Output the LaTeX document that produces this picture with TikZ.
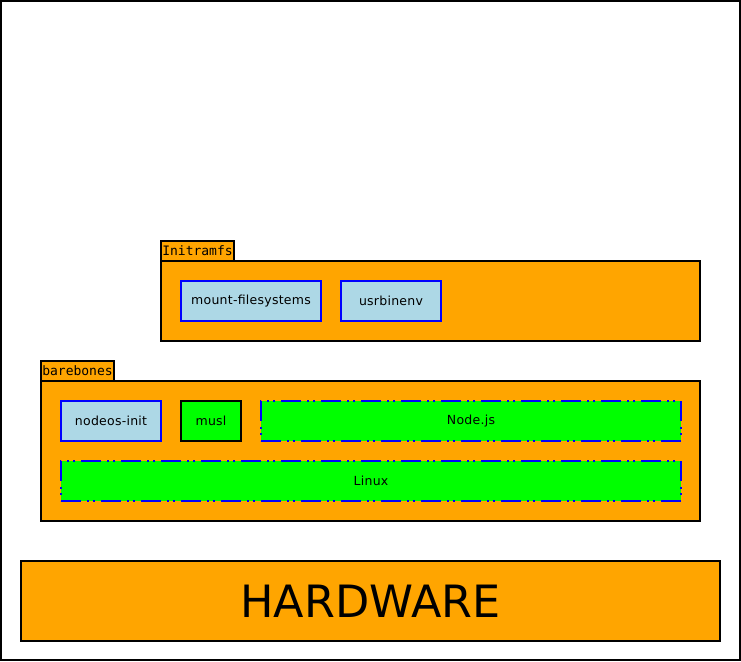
\documentclass[tikz,border=0pt]{standalone}
\usepackage{fontspec}
\setmainfont{DejaVu Sans}[LetterSpace=2]
\newfontfamily\tabfont{DejaVu Sans Mono}
\newfontfamily\hwfont{DejaVu Sans}
\definecolor{pkgorange}{HTML}{FFA500}
\definecolor{lblue}{HTML}{ADD8E6}
\definecolor{lgreen}{HTML}{00FF00}
\definecolor{pblue}{HTML}{0000FF}
\tikzset{
  every node/.style={outer sep=0pt},
  pkgbody/.style={draw=black, fill=pkgorange, line width=2pt, inner sep=0pt, anchor=north west},
  pkgtab/.style={draw=black, fill=pkgorange, line width=1.5pt, inner sep=0pt, anchor=north west,
    minimum width=73pt, minimum height=20pt, font=\tabfont\fontsize{13}{14}\selectfont, text=black},
  modbox/.style={draw=pblue, fill=lblue, line width=1.6pt, inner sep=0pt, anchor=north west,
    minimum height=40pt, font=\fontsize{12.5}{14}\selectfont},
  libbox/.style={draw=black, fill=lgreen, line width=1.6pt, inner sep=0pt, anchor=north west,
    minimum height=40pt, font=\fontsize{12.5}{14}\selectfont},
  extbox/.style={draw=pblue, fill=lgreen, line width=1.5pt, inner sep=0pt, anchor=north west,
    minimum height=40pt, font=\fontsize{12.5}{14}\selectfont,
    dash pattern=on 20pt off 6pt on 2pt off 4pt on 2pt off 6pt},
}
\begin{document}
\begin{tikzpicture}[x=1pt,y=-1pt]
\useasboundingbox (0,0) rectangle (741,661);
\draw[line width=2pt] (1,1) rectangle (740,660);
% Initramfs package
\node[pkgtab] (inittab) at (161,241) {Initramfs};
\node[pkgbody, minimum width=539pt, minimum height=80pt] (initbody) at (161,261) {};
\node[modbox, minimum width=140pt] (mfs) at (181,281) {mount-filesystems};
\node[modbox, minimum width=100pt] (usr) at (341,281) {usrbinenv};
% barebones package
\node[pkgtab] (baretab) at (41,361) {barebones};
\node[pkgbody, minimum width=659pt, minimum height=140pt] (barebody) at (41,381) {};
\node[modbox, minimum width=100pt] (ninit) at (61,401) {nodeos-init};
\node[libbox, minimum width=60pt] (musl) at (181,401) {musl};
\node[extbox, minimum width=420pt] (nodejs) at (261,401) {Node.js};
\node[extbox, minimum width=620pt] (linux) at (61,461) {Linux};
% hardware
\node[pkgbody, minimum width=699pt, minimum height=80pt, font=\hwfont\fontsize{44.5}{50}\selectfont] (hw) at (21,561) {HARDWARE};
\end{tikzpicture}
\end{document}
